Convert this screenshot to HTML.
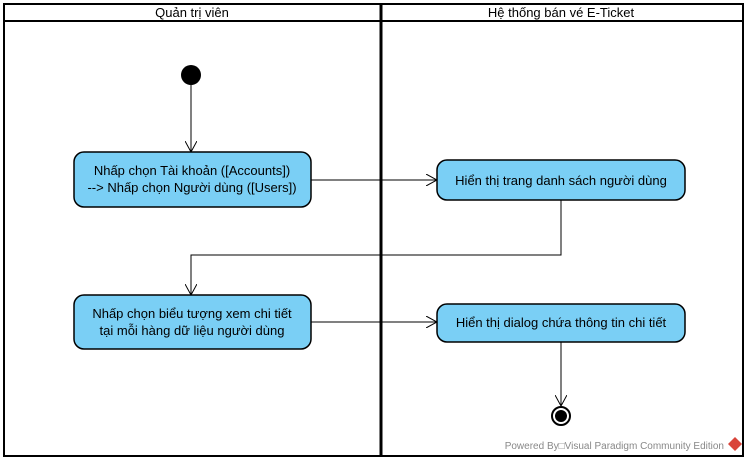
<!DOCTYPE html>
<html><head><meta charset="utf-8"><style>
body{margin:0;background:#fff;width:747px;height:462px;overflow:hidden}
svg{display:block}
text{font-family:"Liberation Sans",sans-serif;font-size:13px;fill:#000}
</style></head><body>
<svg width="747" height="462" viewBox="0 0 747 462">
<defs><marker id="a" markerWidth="12" markerHeight="12" refX="11" refY="6" orient="auto" markerUnits="userSpaceOnUse"><path d="M0,0 L11,6 L0,12" fill="none" stroke="#000" stroke-width="1"/></marker></defs>
<rect x="4" y="4" width="739" height="452" fill="#fff" stroke="#000" stroke-width="2"/>
<line x1="4" y1="21" x2="743" y2="21" stroke="#000" stroke-width="2"/>
<line x1="381" y1="4" x2="381" y2="456" stroke="#000" stroke-width="3"/>
<text x="192" y="17" text-anchor="middle">Quản trị viên</text>
<text x="561" y="17" text-anchor="middle">Hệ thống bán vé E-Ticket</text>
<circle cx="191" cy="75" r="10" fill="#000"/>
<g fill="none" stroke="#000" stroke-width="1">
<line x1="191" y1="85" x2="191" y2="152" marker-end="url(#a)"/>
<line x1="311" y1="180" x2="437" y2="180" marker-end="url(#a)"/>
<polyline points="561,200 561,255 191,255 191,295" marker-end="url(#a)"/>
<line x1="311" y1="322" x2="437" y2="322" marker-end="url(#a)"/>
<line x1="561" y1="342" x2="561" y2="406" marker-end="url(#a)"/>
</g>
<g fill="#7acff5" stroke="#000" stroke-width="1.5">
<rect x="74" y="152" width="237" height="55" rx="10"/>
<rect x="437" y="160" width="248" height="40" rx="10"/>
<rect x="74" y="295" width="237" height="54" rx="10"/>
<rect x="437" y="304" width="248" height="38" rx="10"/>
</g>
<text x="192" y="175" text-anchor="middle">Nhấp chọn Tài khoản ([Accounts])</text>
<text x="192" y="192" text-anchor="middle">--&gt; Nhấp chọn Người dùng ([Users])</text>
<text x="561" y="185" text-anchor="middle">Hiển thị trang danh sách người dùng</text>
<text x="192" y="318" text-anchor="middle">Nhấp chọn biểu tượng xem chi tiết</text>
<text x="192" y="335" text-anchor="middle">tại mỗi hàng dữ liệu người dùng</text>
<text x="561" y="327" text-anchor="middle">Hiển thị dialog chứa thông tin chi tiết</text>
<circle cx="561" cy="416" r="9" fill="#fff" stroke="#000" stroke-width="2"/>
<circle cx="561" cy="416" r="6" fill="#000"/>
<text x="724" y="449" text-anchor="end" style="fill:#888;font-size:10px">Powered By□Visual Paradigm Community Edition</text>
<path d="M735,437 L742,444 L735,451 L728,444 Z" fill="#d9443a"/>
</svg>
</body></html>
